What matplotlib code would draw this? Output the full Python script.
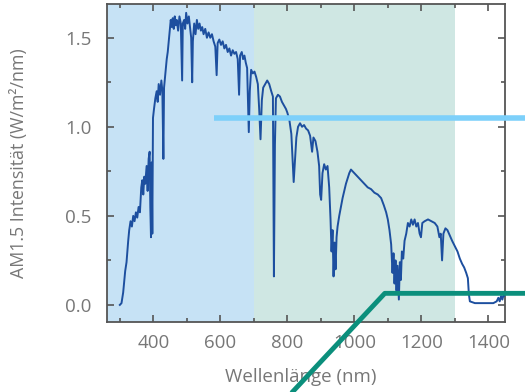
import matplotlib
matplotlib.use("Agg")
import matplotlib.pyplot as plt
from matplotlib.ticker import MultipleLocator

plt.rcParams['font.family'] = ['Open Sans', 'DejaVu Sans']

# AM1.5 Spektrum
wl = [300, 305, 310, 316, 320, 325, 328, 332, 336, 340, 344, 348, 352, 356, 360,
      364, 367, 370, 373, 376, 380, 383, 386, 389, 391, 393, 395, 397, 399, 402,
      406, 410, 413, 416, 420, 424, 427, 430, 432, 436, 440, 443, 446, 449, 452,
      455, 458, 461, 464, 467, 470, 474, 478, 482, 486, 488, 492, 495, 498, 502,
      506, 510, 513, 516, 518, 522, 526, 530, 534, 538, 542, 546, 550, 555, 560,
      565, 570, 575, 580, 585, 589, 592, 597, 602, 607, 612, 617, 622, 627, 632,
      637, 642, 647, 652, 656, 659, 664, 668, 672, 676, 680, 685, 688, 692, 697,
      702, 707, 712, 716, 720, 724, 728, 734, 740, 746, 752, 757, 760, 763, 766,
      772, 778, 784, 790, 796, 800, 806, 812, 816, 819, 823, 827, 832, 838, 844,
      850, 856, 862, 868, 874, 878, 884, 890, 895, 898, 901, 905, 910, 915, 920,
      925, 929, 932, 935, 938, 941, 944, 947, 950, 955, 960, 965, 970, 975, 980,
      985, 990, 1000, 1010, 1020, 1030, 1040, 1050, 1060, 1070, 1080, 1088, 1095, 1100, 1105,
      1110, 1114, 1117, 1120, 1123, 1126, 1129, 1133, 1136, 1139, 1142, 1146, 1150, 1155, 1160,
      1165, 1170, 1175, 1180, 1185, 1190, 1195, 1199, 1203, 1210, 1220, 1230, 1240, 1248, 1254,
      1258, 1262, 1266, 1272, 1278, 1285, 1292, 1300, 1308, 1315, 1322, 1328, 1334, 1339, 1342,
      1345, 1360, 1380, 1400, 1415, 1425, 1430, 1434, 1438, 1442, 1446, 1450]
intens = [0.00, 0.01, 0.07, 0.19, 0.24, 0.36, 0.42, 0.47, 0.44, 0.50, 0.47, 0.52, 0.49, 0.55, 0.52,
          0.66, 0.70, 0.62, 0.72, 0.68, 0.78, 0.64, 0.82, 0.86, 0.55, 0.38, 0.80, 0.40, 1.05, 1.10,
          1.16, 1.20, 1.14, 1.24, 1.18, 1.26, 1.20, 0.82, 1.22, 1.30, 1.38, 1.42, 1.48, 1.54, 1.60,
          1.56, 1.61, 1.55, 1.62, 1.57, 1.60, 1.54, 1.62, 1.58, 1.26, 1.58, 1.60, 1.55, 1.64, 1.58,
          1.62, 1.55, 1.50, 1.25, 1.48, 1.58, 1.52, 1.60, 1.55, 1.58, 1.54, 1.56, 1.52, 1.55, 1.50,
          1.53, 1.50, 1.52, 1.48, 1.45, 1.29, 1.47, 1.49, 1.46, 1.48, 1.44, 1.46, 1.42, 1.44, 1.40,
          1.43, 1.41, 1.42, 1.38, 1.18, 1.40, 1.42, 1.38, 1.40, 1.36, 1.33, 0.97, 1.20, 1.32, 1.30,
          1.31, 1.28, 1.24, 1.10, 0.93, 1.15, 1.22, 1.24, 1.26, 1.24, 1.20, 1.17, 0.16, 0.90, 1.16,
          1.18, 1.17, 1.14, 1.12, 1.10, 1.08, 1.04, 0.96, 0.80, 0.69, 0.82, 0.94, 1.00, 1.02, 1.00,
          1.01, 0.99, 0.98, 0.95, 0.86, 0.94, 0.92, 0.86, 0.78, 0.62, 0.59, 0.74, 0.79, 0.76, 0.78,
          0.66, 0.48, 0.30, 0.42, 0.16, 0.35, 0.20, 0.38, 0.44, 0.50, 0.55, 0.60, 0.64, 0.68, 0.71,
          0.74, 0.76, 0.74, 0.72, 0.70, 0.68, 0.66, 0.65, 0.63, 0.62, 0.60, 0.56, 0.52, 0.48, 0.42,
          0.34, 0.18, 0.29, 0.12, 0.25, 0.08, 0.22, 0.03, 0.24, 0.14, 0.30, 0.26, 0.36, 0.40, 0.46,
          0.44, 0.48, 0.45, 0.48, 0.44, 0.46, 0.40, 0.38, 0.46, 0.47, 0.48, 0.47, 0.46, 0.44, 0.38,
          0.40, 0.25, 0.40, 0.43, 0.42, 0.39, 0.36, 0.33, 0.30, 0.26, 0.23, 0.21, 0.18, 0.15, 0.06,
          0.02, 0.01, 0.01, 0.01, 0.01, 0.02, 0.04, 0.02, 0.05, 0.03, 0.06, 0.05]

# Bereiche (nm)
blau_bereich = (262, 700)
gruen_bereich = (700, 1300)

# Hinweislinien
hell_x = [580, 1530]
hell_y = [1.05, 1.05]
teal_x = [760, 1091, 1530]
teal_y = [-0.6, 0.065, 0.065]

fig = plt.figure(figsize=(5.25, 3.92), dpi=100)
ax = fig.add_axes([0.204, 0.179, 0.758, 0.811])

ax.axvspan(*blau_bereich, color='#c6e2f5', lw=0, zorder=0)
ax.axvspan(*gruen_bereich, color='#cfe7e3', lw=0, zorder=0)

ax.plot(wl, intens, color='#1d4f9f', lw=1.4, zorder=3)

ax.plot(hell_x, hell_y, color='#7dd0fa', lw=4, clip_on=False, zorder=10,
        solid_capstyle='butt')
ax.plot(teal_x, teal_y, color='#0b8f7c', lw=3.5, clip_on=False, zorder=10,
        solid_capstyle='butt')

ax.set_xlim(262, 1450)
ax.set_ylim(-0.095, 1.69)
ax.xaxis.set_major_locator(MultipleLocator(200))
ax.xaxis.set_minor_locator(MultipleLocator(100))
ax.yaxis.set_major_locator(MultipleLocator(0.5))
ax.yaxis.set_minor_locator(MultipleLocator(0.25))
ax.tick_params(which='both', direction='in', top=True, right=True,
               color='#555555', labelcolor='#777777', labelsize=13.5, width=1.2)
ax.tick_params(which='major', length=5)
ax.tick_params(which='minor', length=3)
ax.tick_params(axis='x', which='major', pad=9)
ax.tick_params(axis='y', which='major', pad=11)
ax.yaxis.set_major_formatter(plt.FuncFormatter(lambda v, p: f'{v:.1f}'))
for s in ax.spines.values():
    s.set_color('#555555')
    s.set_linewidth(1.3)

ax.set_xlabel('Wellenlänge (nm)', color='#777777', fontsize=13.5)
ax.set_ylabel('AM1.5 Intensität (W/m²/nm)', color='#777777', fontsize=12.8)
ax.xaxis.set_label_coords(0.487, -0.145)
ax.yaxis.set_label_coords(-0.20, 0.50)

fig.savefig('out.png', dpi=100)
